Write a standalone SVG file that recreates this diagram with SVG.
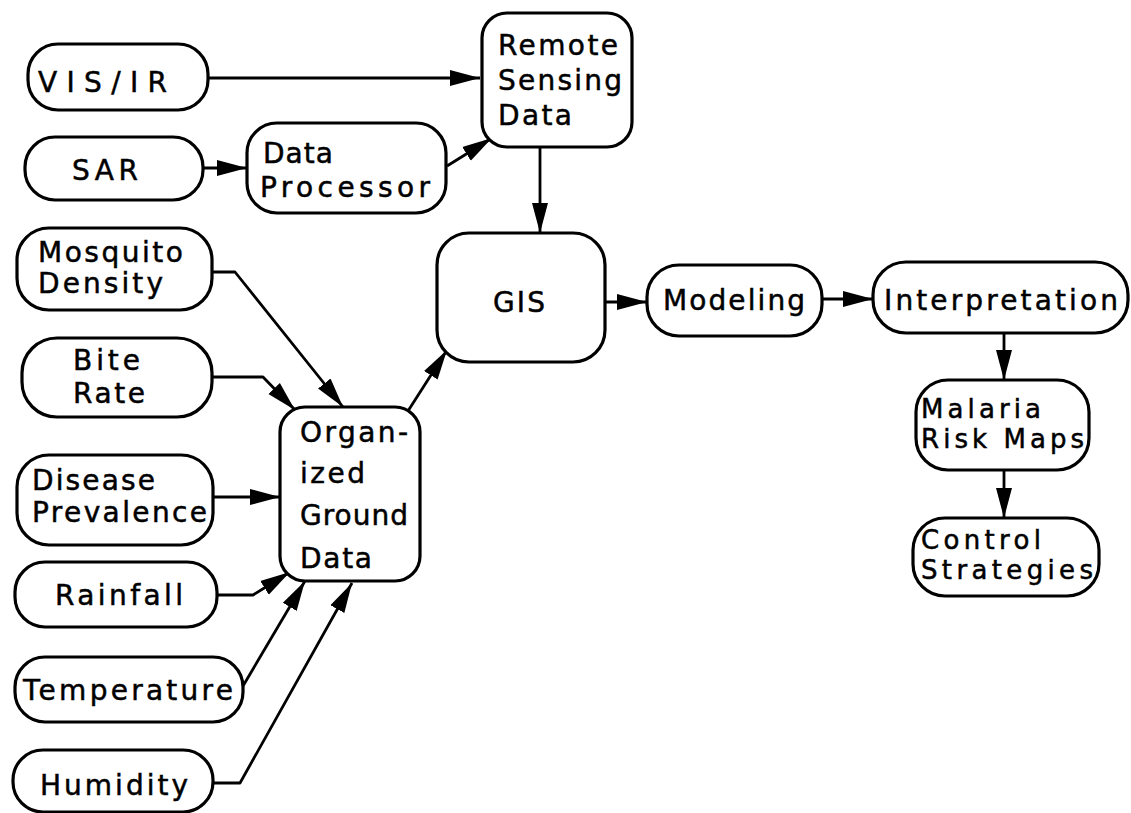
<svg xmlns="http://www.w3.org/2000/svg" width="1131" height="813" viewBox="0 0 1131 813">
  <style>
    .box { fill: #fff; stroke: #000; stroke-width: 3.2; }
    .lbl { font-family: "DejaVu Sans", "Liberation Sans", sans-serif; font-size: 28px; fill: #000; stroke: #000; stroke-width: 0.5; }
    .tight { font-size: 26px; }
    .wire { fill: none; stroke: #000; stroke-width: 2.8; stroke-linejoin: round; }
  </style>
  <defs>
    <marker id="ah" markerUnits="userSpaceOnUse" markerWidth="32" markerHeight="20" refX="30" refY="10" orient="auto">
      <path d="M0,2 L30,10 L0,18 Z" fill="#000"/>
    </marker>
  </defs>
  <rect width="1131" height="813" fill="#fff"/>

  <!-- connectors -->
  <g id="connectors" class="wire" marker-end="url(#ah)">
    <path d="M208,78 H480"/>
    <path d="M203,168 H247"/>
    <path d="M447,166 L492,138"/>
    <path d="M540,147 V233"/>
    <path d="M212,272 H235 L343,407"/>
    <path d="M212,377 H263 L295,410"/>
    <path d="M213,497 H280"/>
    <path d="M217,595 H253 L290,572"/>
    <path d="M243,686 L305,581"/>
    <path d="M213,783 H240 L352,583"/>
    <path d="M408,411 L447,350"/>
    <path d="M605,302 H647"/>
    <path d="M822,299 H873"/>
    <path d="M1004,333 V380"/>
    <path d="M1004,470 V518"/>
  </g>

  <!-- remote sensing inputs -->
  <g id="vis-ir">
    <rect class="box" x="28" y="44" width="180" height="66" rx="30"/>
    <text class="lbl" x="38" y="92" textLength="129" lengthAdjust="spacing">VIS/IR</text>
  </g>
  <g id="sar">
    <rect class="box" x="25" y="137" width="178" height="63" rx="30"/>
    <text class="lbl" x="72" y="180" textLength="66" lengthAdjust="spacing">SAR</text>
  </g>
  <g id="data-processor">
    <rect class="box" x="247" y="123" width="199" height="90" rx="30"/>
    <text class="lbl" x="263" y="163" textLength="70" lengthAdjust="spacing">Data</text>
    <text class="lbl" x="260" y="197" textLength="170" lengthAdjust="spacing">Processor</text>
  </g>
  <g id="remote-sensing-data">
    <rect class="box" x="482" y="13" width="150" height="134" rx="25"/>
    <text class="lbl" x="498" y="55" textLength="120" lengthAdjust="spacing">Remote</text>
    <text class="lbl" x="498" y="90" textLength="124" lengthAdjust="spacing">Sensing</text>
    <text class="lbl" x="498" y="125" textLength="74" lengthAdjust="spacing">Data</text>
  </g>
  <g id="gis">
    <rect class="box" x="437" y="233" width="168" height="129" rx="32"/>
    <text class="lbl" x="493" y="312" textLength="52" lengthAdjust="spacing">GIS</text>
  </g>

  <!-- ground inputs -->
  <g id="mosquito-density">
    <rect class="box" x="17" y="228" width="195" height="82" rx="32"/>
    <text class="lbl" x="38" y="262" textLength="145" lengthAdjust="spacing">Mosquito</text>
    <text class="lbl" x="38" y="293" textLength="125" lengthAdjust="spacing">Density</text>
  </g>
  <g id="bite-rate">
    <rect class="box" x="22" y="338" width="190" height="79" rx="35"/>
    <text class="lbl" x="73" y="370" textLength="67" lengthAdjust="spacing">Bite</text>
    <text class="lbl" x="73" y="403" textLength="72" lengthAdjust="spacing">Rate</text>
  </g>
  <g id="disease-prevalence">
    <rect class="box" x="17" y="455" width="196" height="90" rx="32"/>
    <text class="lbl" x="32" y="490" textLength="123" lengthAdjust="spacing">Disease</text>
    <text class="lbl" x="32" y="522" textLength="175" lengthAdjust="spacing">Prevalence</text>
  </g>
  <g id="rainfall">
    <rect class="box" x="15" y="562" width="202" height="65" rx="30"/>
    <text class="lbl" x="55" y="605" textLength="128" lengthAdjust="spacing">Rainfall</text>
  </g>
  <g id="temperature">
    <rect class="box" x="15" y="657" width="228" height="65" rx="30"/>
    <text class="lbl" x="23" y="700" textLength="210" lengthAdjust="spacing">Temperature</text>
  </g>
  <g id="humidity">
    <rect class="box" x="13" y="750" width="200" height="62" rx="30"/>
    <text class="lbl" x="40" y="795" textLength="148" lengthAdjust="spacing">Humidity</text>
  </g>
  <g id="organized-ground-data">
    <rect class="box" x="280" y="407" width="140" height="174" rx="25"/>
    <text class="lbl" x="300" y="442" textLength="108" lengthAdjust="spacing">Organ-</text>
    <text class="lbl" x="300" y="483" textLength="65" lengthAdjust="spacing">ized</text>
    <text class="lbl" x="300" y="525" textLength="108" lengthAdjust="spacing">Ground</text>
    <text class="lbl" x="300" y="568" textLength="72" lengthAdjust="spacing">Data</text>
  </g>

  <!-- analysis chain -->
  <g id="modeling">
    <rect class="box" x="647" y="265" width="175" height="71" rx="32"/>
    <text class="lbl" x="663" y="310" textLength="142" lengthAdjust="spacing">Modeling</text>
  </g>
  <g id="interpretation">
    <rect class="box" x="873" y="262" width="255" height="71" rx="33"/>
    <text class="lbl" x="884" y="310" textLength="234" lengthAdjust="spacing">Interpretation</text>
  </g>
  <g id="malaria-risk-maps">
    <rect class="box" x="916" y="380" width="173" height="90" rx="32"/>
    <text class="lbl tight" x="921" y="418" textLength="120" lengthAdjust="spacing">Malaria</text>
    <text class="lbl tight" x="921" y="448" textLength="163" lengthAdjust="spacing">Risk Maps</text>
  </g>
  <g id="control-strategies">
    <rect class="box" x="913" y="518" width="186" height="78" rx="32"/>
    <text class="lbl tight" x="921" y="549" textLength="120" lengthAdjust="spacing">Control</text>
    <text class="lbl tight" x="921" y="579" textLength="172" lengthAdjust="spacing">Strategies</text>
  </g>
</svg>
